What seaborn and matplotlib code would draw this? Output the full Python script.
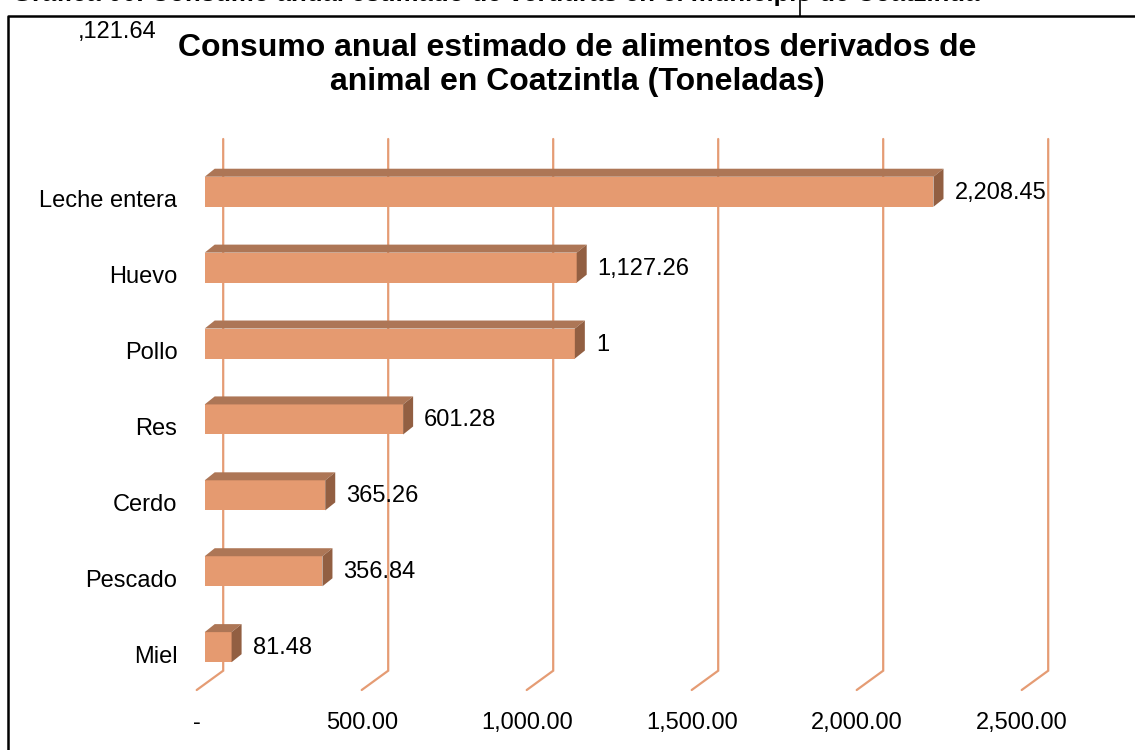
import numpy as np
import pandas as pd
import matplotlib
matplotlib.use("Agg")
import matplotlib.pyplot as plt
from matplotlib.patches import Polygon
from matplotlib.lines import Line2D
from matplotlib.transforms import ScaledTranslation
import seaborn as sns

# ---------------- data ----------------
categories = ["Leche entera", "Huevo", "Pollo", "Res", "Cerdo", "Pescado", "Miel"]
values = [2208.45, 1127.26, 1121.64, 601.28, 365.26, 356.84, 81.48]
value_labels = ["2,208.45", "1,127.26", "1", "601.28", "365.26", "356.84", "81.48"]
stray_label = ",121.64"
x_ticks = [0, 500, 1000, 1500, 2000, 2500]
x_tick_labels = ["-", "500.00", "1,000.00", "1,500.00", "2,000.00", "2,500.00"]
title = "Consumo anual estimado de alimentos derivados de\nanimal en Coatzintla (Toneladas)"
header = "Gráfica 00. Consumo anual estimado de verduras en el municipio de Coatzintla"

# ---------------- style ----------------
W, H, DPI = 1135, 750, 100
FRONT = "#E59A70"
TOP = "#AD7656"
SIDE = "#925F42"
GRID = "#E59C74"

sns.set_theme(style="white")
plt.rcParams['font.family'] = ['Liberation Sans', 'DejaVu Sans']

fig = plt.figure(figsize=(W / DPI, H / DPI), dpi=DPI)
fig.patch.set_facecolor("white")

# axes placement (pixels)
ax_left, ax_right = 196.7, 1021.7
ax_top, ax_bottom = 160.8, 692.1
ax = fig.add_axes([ax_left / W, 1 - ax_bottom / H,
                   (ax_right - ax_left) / W, (ax_bottom - ax_top) / H])

df = pd.DataFrame({"cat": categories, "val": values})
sns.barplot(data=df, x="val", y="cat", orient="h", color=FRONT, saturation=1,
            width=0.396, ax=ax, zorder=3, linewidth=0)
ax.set_xlim(0, 2500)
ax.set_ylim(len(categories) - 0.5, -0.5)

ppu_x = (ax_right - ax_left) / 2500.0
ppu_y = (ax_bottom - ax_top) / len(categories)

def pix_to_cat(p):
    return (p - ax_top) / ppu_y - 0.5

# bars shifted into the depth of the 3D box
bar_shift = ax.transData + ScaledTranslation(8 / DPI, 7 / DPI, fig.dpi_scale_trans)
ddx = 10 / ppu_x
ddy = -8 / ppu_y
for p in list(ax.patches):
    p.set_transform(bar_shift)
    x0, w = p.get_x(), p.get_width()
    y0, h = p.get_y(), p.get_height()
    top = Polygon([(x0, y0), (x0 + w, y0), (x0 + w + ddx, y0 + ddy), (x0 + ddx, y0 + ddy)],
                  closed=True, facecolor=TOP, edgecolor="none", zorder=3,
                  transform=bar_shift)
    side = Polygon([(x0 + w, y0), (x0 + w + ddx, y0 + ddy), (x0 + w + ddx, y0 + h + ddy),
                    (x0 + w, y0 + h)], closed=True, facecolor=SIDE, edgecolor="none",
                   zorder=3, transform=bar_shift)
    ax.add_patch(top)
    ax.add_patch(side)

# gridlines on the back wall + floor
gdx = 26.5 / ppu_x
y_wall_top = pix_to_cat(139)
y_floor_back = pix_to_cat(670.7)
y_floor_front = pix_to_cat(690.0)
for v in x_ticks:
    ax.plot([v + gdx, v + gdx, v], [y_wall_top, y_floor_back, y_floor_front],
            color=GRID, lw=1.6, zorder=1, clip_on=False, solid_joinstyle="miter")

# ticks
ax.set_xticks(x_ticks)
ax.set_xticklabels(x_tick_labels)
ax.tick_params(axis="x", length=0, pad=14, labelsize=17, labelcolor="black")
ax.tick_params(axis="y", length=0, pad=14, labelsize=17, labelcolor="black")
ax.set_xlabel("")
ax.set_ylabel("")
ax.grid(False)
for s in ax.spines.values():
    s.set_visible(False)
ax.set_facecolor("none")

# value labels
for i, (v, lab) in enumerate(zip(values, value_labels)):
    ax.annotate(lab, xy=(v, i), xytext=(29, 6), textcoords="offset pixels",
                ha="left", va="center", fontsize=17, color="black", zorder=5)

fig.text(78 / W, 1 - 32 / H, stray_label, ha="left", va="center", fontsize=17, color="black")

# title
fig.text(577.5 / W, 1 - 65 / H, title, ha="center", va="center", fontsize=23,
         fontweight="bold", color="black", linespacing=1.15)

# clipped header above the frame (only its lower edge is visible, as in the source)
fig.text(12 / W, 1 - 1.5 / H, header, ha="left", va="baseline", fontsize=18.5,
         fontweight="bold", color="black")

# frame of the chart area
fig.add_artist(Line2D([8 / W, 8 / W, 1.01], [-0.01, 1 - 16 / H, 1 - 16 / H],
                      transform=fig.transFigure, color="black", lw=1.8))
fig.add_artist(Line2D([800 / W, 800 / W], [1 - 16 / H, 1.01],
                      transform=fig.transFigure, color="black", lw=1.2))

fig.savefig("out.png", dpi=DPI, facecolor="white")
